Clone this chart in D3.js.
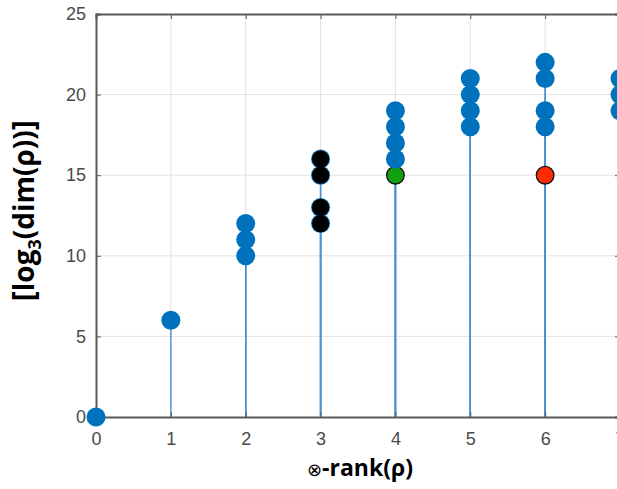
<!DOCTYPE html>
<html>
<head>
<meta charset="utf-8">
<script src="https://cdn.jsdelivr.net/npm/d3@7"></script>
<style>
  body { margin: 0; background: #fff; }
  svg { display: block; }
</style>
</head>
<body>
<svg id="chart"></svg>
<script>
// points: tensor rank vs ceil(log3 dim)
const ranks   = [0, 1, 2, 2, 2, 3, 3, 3, 3, 4, 4, 4, 4, 4, 5, 5, 5, 5, 6, 6, 6, 6, 6, 7, 7, 7];
const logDims = [0, 6, 10, 11, 12, 12, 13, 15, 16, 15, 16, 17, 18, 19, 18, 19, 20, 21, 15, 18, 19, 21, 22, 19, 20, 21];
const kinds   = ["b", "b", "b", "b", "b", "k", "k", "k", "k", "g", "b", "b", "b", "b", "b", "b", "b", "b", "r", "b", "b", "b", "b", "b", "b", "b"];
const xTicks = [0, 1, 2, 3, 4, 5, 6, 7];
const yTicks = [0, 5, 10, 15, 20, 25];

const W = 617, H = 489;
const svg = d3.select("#chart").attr("width", W).attr("height", H);

const x = d3.scaleLinear().domain([0, 7]).range([96, 620]);
const y = d3.scaleLinear().domain([0, 25]).range([417, 14]);

const fill = { b: "#0072BD", k: "#000000", g: "#13A010", r: "#FF2A00" };

const points = ranks.map((r, i) => ({ x: r, y: logDims[i], kind: kinds[i] }));

// grid
const grid = svg.append("g").attr("stroke", "#e3e3e3").attr("stroke-width", 1);
grid.selectAll(".gx").data(xTicks.slice(1)).enter().append("line")
    .attr("x1", d => x(d)).attr("x2", d => x(d))
    .attr("y1", y(0)).attr("y2", y(25));
grid.selectAll(".gy").data(yTicks.slice(1, -1)).enter().append("line")
    .attr("x1", x(0)).attr("x2", x(7))
    .attr("y1", d => y(d)).attr("y2", d => y(d));

// stems
svg.append("g").selectAll("line").data(points).enter().append("line")
    .attr("x1", d => x(d.x)).attr("x2", d => x(d.x))
    .attr("y1", y(0)).attr("y2", d => y(d.y))
    .attr("stroke", "#4a90d0")
    .attr("stroke-width", 1.4);

// axes box (MATLAB style, inward ticks)
const axisColor = "#5a5a5a";
const xAxis = d3.axisBottom(x).tickValues(xTicks).tickFormat(d3.format("d")).tickSize(-5).tickPadding(12);
const yAxis = d3.axisLeft(y).tickValues(yTicks).tickFormat(d3.format("d")).tickSize(-5).tickPadding(10);

const gx = svg.append("g").attr("transform", `translate(0,${y(0)})`).call(xAxis);
const gy = svg.append("g").attr("transform", `translate(${x(0)},0)`).call(yAxis);
svg.append("g").attr("transform", `translate(0,${y(25)})`)
    .call(d3.axisTop(x).tickValues(xTicks).tickSize(-5).tickFormat(""));
svg.append("g").attr("transform", `translate(${x(7)},0)`)
    .call(d3.axisRight(y).tickValues(yTicks).tickSize(-5).tickFormat(""));

svg.selectAll(".domain").attr("stroke", axisColor).attr("stroke-width", 2);
svg.selectAll(".tick line").attr("stroke", axisColor).attr("stroke-width", 1);
svg.selectAll(".tick text")
    .attr("fill", "#4a4a4a")
    .style("font-family", "'Liberation Sans', Arial, sans-serif")
    .style("font-size", "18px");
gx.selectAll(".tick text").attr("dy", "0.9em");

// markers
const mk = svg.append("g");
mk.selectAll("circle.base").data(points.filter(d => d.kind === "k")).enter().append("circle")
    .attr("cx", d => x(d.x)).attr("cy", d => y(d.y)).attr("r", 9.5)
    .attr("fill", fill.b);
mk.selectAll("circle.pt").data(points).enter().append("circle")
    .attr("cx", d => x(d.x)).attr("cy", d => y(d.y))
    .attr("r", d => d.kind === "k" ? 8.6 : d.kind === "b" ? 9.5 : 8.8)
    .attr("fill", d => fill[d.kind])
    .attr("stroke", d => (d.kind === "g" || d.kind === "r") ? "#111" : "none")
    .attr("stroke-width", 1.3);

// axis labels
svg.append("text")
    .attr("x", 360).attr("y", 476)
    .attr("text-anchor", "middle")
    .style("font-family", "'Open Sans', sans-serif")
    .style("font-size", "23px")
    .style("font-weight", "bold")
    .call(t => {
      t.append("tspan").style("font-weight", "normal").style("font-size", "18px").text("⊗");
      t.append("tspan").text("-rank(ρ)");
    });

const yl = svg.append("text")
    .attr("transform", `translate(34,${y(12.8)}) rotate(-90)`)
    .attr("text-anchor", "middle")
    .style("font-family", "'Open Sans', sans-serif")
    .style("font-size", "28px")
    .style("font-weight", "bold");
yl.append("tspan").style("font-size", "31px").text("[");
yl.append("tspan").text("log");
yl.append("tspan").attr("dy", 7).style("font-size", "18px").text("3");
yl.append("tspan").attr("dy", -7).text("(dim(ρ))");
yl.append("tspan").style("font-size", "31px").text("]");
</script>
</body>
</html>
